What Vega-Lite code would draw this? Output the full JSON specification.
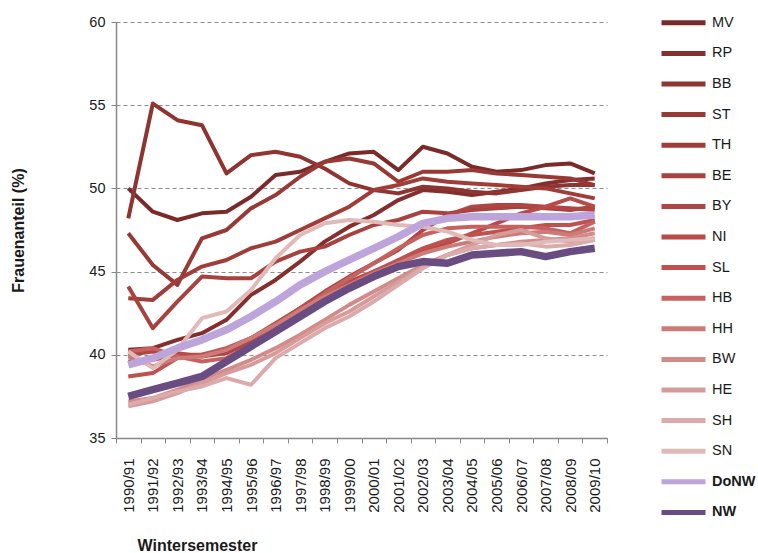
{
  "$schema": "https://vega.github.io/schema/vega-lite/v6.json",
  "width": 491,
  "height": 416,
  "autosize": "none",
  "padding": {"left": 116, "top": 22, "right": 151, "bottom": 115},
  "background": "white",
  "config": {"font": "Liberation Sans", "view": {"stroke": null}},
  "data": {"values": [
    {"s":"MV","j":"1990/91","v":50.0},{"s":"MV","j":"1991/92","v":48.6},{"s":"MV","j":"1992/93","v":48.1},{"s":"MV","j":"1993/94","v":48.5},{"s":"MV","j":"1994/95","v":48.6},{"s":"MV","j":"1995/96","v":49.5},{"s":"MV","j":"1996/97","v":50.8},{"s":"MV","j":"1997/98","v":51.0},{"s":"MV","j":"1998/99","v":51.6},{"s":"MV","j":"1999/00","v":52.1},{"s":"MV","j":"2000/01","v":52.2},{"s":"MV","j":"2001/02","v":51.1},{"s":"MV","j":"2002/03","v":52.5},{"s":"MV","j":"2003/04","v":52.1},{"s":"MV","j":"2004/05","v":51.3},{"s":"MV","j":"2005/06","v":51.0},{"s":"MV","j":"2006/07","v":51.1},{"s":"MV","j":"2007/08","v":51.4},{"s":"MV","j":"2008/09","v":51.5},{"s":"MV","j":"2009/10","v":50.9},
    {"s":"RP","j":"1990/91","v":40.3},{"s":"RP","j":"1991/92","v":40.4},{"s":"RP","j":"1992/93","v":40.9},{"s":"RP","j":"1993/94","v":41.3},{"s":"RP","j":"1994/95","v":42.1},{"s":"RP","j":"1995/96","v":43.6},{"s":"RP","j":"1996/97","v":44.5},{"s":"RP","j":"1997/98","v":45.6},{"s":"RP","j":"1998/99","v":46.8},{"s":"RP","j":"1999/00","v":47.7},{"s":"RP","j":"2000/01","v":48.4},{"s":"RP","j":"2001/02","v":49.3},{"s":"RP","j":"2002/03","v":49.9},{"s":"RP","j":"2003/04","v":49.8},{"s":"RP","j":"2004/05","v":49.6},{"s":"RP","j":"2005/06","v":49.8},{"s":"RP","j":"2006/07","v":50.0},{"s":"RP","j":"2007/08","v":50.3},{"s":"RP","j":"2008/09","v":50.5},{"s":"RP","j":"2009/10","v":50.6},
    {"s":"BB","j":"1990/91","v":48.2},{"s":"BB","j":"1991/92","v":55.1},{"s":"BB","j":"1992/93","v":54.1},{"s":"BB","j":"1993/94","v":53.8},{"s":"BB","j":"1994/95","v":50.9},{"s":"BB","j":"1995/96","v":52.0},{"s":"BB","j":"1996/97","v":52.2},{"s":"BB","j":"1997/98","v":51.9},{"s":"BB","j":"1998/99","v":51.2},{"s":"BB","j":"1999/00","v":50.3},{"s":"BB","j":"2000/01","v":49.9},{"s":"BB","j":"2001/02","v":49.7},{"s":"BB","j":"2002/03","v":50.1},{"s":"BB","j":"2003/04","v":50.0},{"s":"BB","j":"2004/05","v":49.8},{"s":"BB","j":"2005/06","v":49.7},{"s":"BB","j":"2006/07","v":49.9},{"s":"BB","j":"2007/08","v":50.1},{"s":"BB","j":"2008/09","v":50.2},{"s":"BB","j":"2009/10","v":50.2},
    {"s":"ST","j":"1990/91","v":47.3},{"s":"ST","j":"1991/92","v":45.4},{"s":"ST","j":"1992/93","v":44.2},{"s":"ST","j":"1993/94","v":47.0},{"s":"ST","j":"1994/95","v":47.5},{"s":"ST","j":"1995/96","v":48.8},{"s":"ST","j":"1996/97","v":49.6},{"s":"ST","j":"1997/98","v":50.7},{"s":"ST","j":"1998/99","v":51.6},{"s":"ST","j":"1999/00","v":51.8},{"s":"ST","j":"2000/01","v":51.5},{"s":"ST","j":"2001/02","v":50.4},{"s":"ST","j":"2002/03","v":51.0},{"s":"ST","j":"2003/04","v":51.0},{"s":"ST","j":"2004/05","v":51.1},{"s":"ST","j":"2005/06","v":50.9},{"s":"ST","j":"2006/07","v":50.8},{"s":"ST","j":"2007/08","v":50.7},{"s":"ST","j":"2008/09","v":50.6},{"s":"ST","j":"2009/10","v":50.2},
    {"s":"TH","j":"1990/91","v":43.4},{"s":"TH","j":"1991/92","v":43.3},{"s":"TH","j":"1992/93","v":44.5},{"s":"TH","j":"1993/94","v":45.3},{"s":"TH","j":"1994/95","v":45.7},{"s":"TH","j":"1995/96","v":46.4},{"s":"TH","j":"1996/97","v":46.8},{"s":"TH","j":"1997/98","v":47.5},{"s":"TH","j":"1998/99","v":48.2},{"s":"TH","j":"1999/00","v":48.9},{"s":"TH","j":"2000/01","v":49.9},{"s":"TH","j":"2001/02","v":50.2},{"s":"TH","j":"2002/03","v":50.6},{"s":"TH","j":"2003/04","v":50.4},{"s":"TH","j":"2004/05","v":50.3},{"s":"TH","j":"2005/06","v":50.2},{"s":"TH","j":"2006/07","v":50.1},{"s":"TH","j":"2007/08","v":50.0},{"s":"TH","j":"2008/09","v":49.7},{"s":"TH","j":"2009/10","v":49.4},
    {"s":"BE","j":"1990/91","v":44.1},{"s":"BE","j":"1991/92","v":41.6},{"s":"BE","j":"1992/93","v":43.2},{"s":"BE","j":"1993/94","v":44.7},{"s":"BE","j":"1994/95","v":44.6},{"s":"BE","j":"1995/96","v":44.6},{"s":"BE","j":"1996/97","v":45.6},{"s":"BE","j":"1997/98","v":46.2},{"s":"BE","j":"1998/99","v":46.5},{"s":"BE","j":"1999/00","v":47.2},{"s":"BE","j":"2000/01","v":47.8},{"s":"BE","j":"2001/02","v":48.1},{"s":"BE","j":"2002/03","v":48.6},{"s":"BE","j":"2003/04","v":48.5},{"s":"BE","j":"2004/05","v":48.7},{"s":"BE","j":"2005/06","v":48.8},{"s":"BE","j":"2006/07","v":48.9},{"s":"BE","j":"2007/08","v":48.8},{"s":"BE","j":"2008/09","v":48.7},{"s":"BE","j":"2009/10","v":48.9},
    {"s":"BY","j":"1990/91","v":40.0},{"s":"BY","j":"1991/92","v":40.2},{"s":"BY","j":"1992/93","v":40.1},{"s":"BY","j":"1993/94","v":39.9},{"s":"BY","j":"1994/95","v":40.1},{"s":"BY","j":"1995/96","v":40.8},{"s":"BY","j":"1996/97","v":41.8},{"s":"BY","j":"1997/98","v":42.8},{"s":"BY","j":"1998/99","v":43.8},{"s":"BY","j":"1999/00","v":44.7},{"s":"BY","j":"2000/01","v":45.5},{"s":"BY","j":"2001/02","v":46.3},{"s":"BY","j":"2002/03","v":47.5},{"s":"BY","j":"2003/04","v":48.4},{"s":"BY","j":"2004/05","v":48.9},{"s":"BY","j":"2005/06","v":49.0},{"s":"BY","j":"2006/07","v":49.0},{"s":"BY","j":"2007/08","v":48.9},{"s":"BY","j":"2008/09","v":48.8},{"s":"BY","j":"2009/10","v":48.7},
    {"s":"NI","j":"1990/91","v":39.6},{"s":"NI","j":"1991/92","v":39.7},{"s":"NI","j":"1992/93","v":40.0},{"s":"NI","j":"1993/94","v":40.0},{"s":"NI","j":"1994/95","v":40.3},{"s":"NI","j":"1995/96","v":41.0},{"s":"NI","j":"1996/97","v":41.9},{"s":"NI","j":"1997/98","v":42.8},{"s":"NI","j":"1998/99","v":43.7},{"s":"NI","j":"1999/00","v":44.4},{"s":"NI","j":"2000/01","v":45.0},{"s":"NI","j":"2001/02","v":45.6},{"s":"NI","j":"2002/03","v":46.2},{"s":"NI","j":"2003/04","v":46.7},{"s":"NI","j":"2004/05","v":47.3},{"s":"NI","j":"2005/06","v":47.9},{"s":"NI","j":"2006/07","v":48.5},{"s":"NI","j":"2007/08","v":48.9},{"s":"NI","j":"2008/09","v":49.4},{"s":"NI","j":"2009/10","v":48.9},
    {"s":"SL","j":"1990/91","v":38.7},{"s":"SL","j":"1991/92","v":38.9},{"s":"SL","j":"1992/93","v":39.8},{"s":"SL","j":"1993/94","v":40.0},{"s":"SL","j":"1994/95","v":40.4},{"s":"SL","j":"1995/96","v":41.0},{"s":"SL","j":"1996/97","v":41.7},{"s":"SL","j":"1997/98","v":42.5},{"s":"SL","j":"1998/99","v":43.4},{"s":"SL","j":"1999/00","v":44.2},{"s":"SL","j":"2000/01","v":45.0},{"s":"SL","j":"2001/02","v":45.7},{"s":"SL","j":"2002/03","v":46.4},{"s":"SL","j":"2003/04","v":46.9},{"s":"SL","j":"2004/05","v":47.2},{"s":"SL","j":"2005/06","v":47.4},{"s":"SL","j":"2006/07","v":47.6},{"s":"SL","j":"2007/08","v":47.8},{"s":"SL","j":"2008/09","v":47.8},{"s":"SL","j":"2009/10","v":48.1},
    {"s":"HB","j":"1990/91","v":40.2},{"s":"HB","j":"1991/92","v":40.4},{"s":"HB","j":"1992/93","v":39.9},{"s":"HB","j":"1993/94","v":39.6},{"s":"HB","j":"1994/95","v":39.8},{"s":"HB","j":"1995/96","v":40.6},{"s":"HB","j":"1996/97","v":41.6},{"s":"HB","j":"1997/98","v":42.6},{"s":"HB","j":"1998/99","v":43.7},{"s":"HB","j":"1999/00","v":44.6},{"s":"HB","j":"2000/01","v":45.5},{"s":"HB","j":"2001/02","v":46.4},{"s":"HB","j":"2002/03","v":47.2},{"s":"HB","j":"2003/04","v":47.6},{"s":"HB","j":"2004/05","v":47.7},{"s":"HB","j":"2005/06","v":47.7},{"s":"HB","j":"2006/07","v":47.7},{"s":"HB","j":"2007/08","v":47.6},{"s":"HB","j":"2008/09","v":47.3},{"s":"HB","j":"2009/10","v":48.0},
    {"s":"HH","j":"1990/91","v":39.9},{"s":"HH","j":"1991/92","v":39.3},{"s":"HH","j":"1992/93","v":39.8},{"s":"HH","j":"1993/94","v":39.9},{"s":"HH","j":"1994/95","v":40.3},{"s":"HH","j":"1995/96","v":41.0},{"s":"HH","j":"1996/97","v":41.8},{"s":"HH","j":"1997/98","v":42.7},{"s":"HH","j":"1998/99","v":43.5},{"s":"HH","j":"1999/00","v":44.2},{"s":"HH","j":"2000/01","v":44.9},{"s":"HH","j":"2001/02","v":45.5},{"s":"HH","j":"2002/03","v":46.1},{"s":"HH","j":"2003/04","v":46.5},{"s":"HH","j":"2004/05","v":46.8},{"s":"HH","j":"2005/06","v":47.1},{"s":"HH","j":"2006/07","v":47.3},{"s":"HH","j":"2007/08","v":47.4},{"s":"HH","j":"2008/09","v":47.2},{"s":"HH","j":"2009/10","v":47.6},
    {"s":"BW","j":"1990/91","v":37.2},{"s":"BW","j":"1991/92","v":37.4},{"s":"BW","j":"1992/93","v":37.9},{"s":"BW","j":"1993/94","v":38.5},{"s":"BW","j":"1994/95","v":39.1},{"s":"BW","j":"1995/96","v":39.7},{"s":"BW","j":"1996/97","v":40.4},{"s":"BW","j":"1997/98","v":41.2},{"s":"BW","j":"1998/99","v":42.1},{"s":"BW","j":"1999/00","v":43.0},{"s":"BW","j":"2000/01","v":43.8},{"s":"BW","j":"2001/02","v":44.6},{"s":"BW","j":"2002/03","v":45.4},{"s":"BW","j":"2003/04","v":46.0},{"s":"BW","j":"2004/05","v":46.4},{"s":"BW","j":"2005/06","v":46.6},{"s":"BW","j":"2006/07","v":46.8},{"s":"BW","j":"2007/08","v":46.9},{"s":"BW","j":"2008/09","v":47.0},{"s":"BW","j":"2009/10","v":47.3},
    {"s":"HE","j":"1990/91","v":36.9},{"s":"HE","j":"1991/92","v":37.2},{"s":"HE","j":"1992/93","v":37.7},{"s":"HE","j":"1993/94","v":38.3},{"s":"HE","j":"1994/95","v":38.9},{"s":"HE","j":"1995/96","v":39.4},{"s":"HE","j":"1996/97","v":40.1},{"s":"HE","j":"1997/98","v":41.0},{"s":"HE","j":"1998/99","v":41.9},{"s":"HE","j":"1999/00","v":42.6},{"s":"HE","j":"2000/01","v":43.5},{"s":"HE","j":"2001/02","v":44.4},{"s":"HE","j":"2002/03","v":45.3},{"s":"HE","j":"2003/04","v":46.0},{"s":"HE","j":"2004/05","v":46.6},{"s":"HE","j":"2005/06","v":47.2},{"s":"HE","j":"2006/07","v":47.5},{"s":"HE","j":"2007/08","v":47.0},{"s":"HE","j":"2008/09","v":46.8},{"s":"HE","j":"2009/10","v":47.0},
    {"s":"SH","j":"1990/91","v":37.0},{"s":"SH","j":"1991/92","v":37.4},{"s":"SH","j":"1992/93","v":37.8},{"s":"SH","j":"1993/94","v":38.1},{"s":"SH","j":"1994/95","v":38.6},{"s":"SH","j":"1995/96","v":38.2},{"s":"SH","j":"1996/97","v":39.8},{"s":"SH","j":"1997/98","v":40.7},{"s":"SH","j":"1998/99","v":41.6},{"s":"SH","j":"1999/00","v":42.3},{"s":"SH","j":"2000/01","v":43.2},{"s":"SH","j":"2001/02","v":44.2},{"s":"SH","j":"2002/03","v":45.2},{"s":"SH","j":"2003/04","v":46.0},{"s":"SH","j":"2004/05","v":46.4},{"s":"SH","j":"2005/06","v":46.6},{"s":"SH","j":"2006/07","v":46.7},{"s":"SH","j":"2007/08","v":46.5},{"s":"SH","j":"2008/09","v":46.6},{"s":"SH","j":"2009/10","v":46.9},
    {"s":"SN","j":"1990/91","v":40.2},{"s":"SN","j":"1991/92","v":39.2},{"s":"SN","j":"1992/93","v":40.3},{"s":"SN","j":"1993/94","v":42.2},{"s":"SN","j":"1994/95","v":42.6},{"s":"SN","j":"1995/96","v":43.9},{"s":"SN","j":"1996/97","v":45.8},{"s":"SN","j":"1997/98","v":47.2},{"s":"SN","j":"1998/99","v":47.9},{"s":"SN","j":"1999/00","v":48.1},{"s":"SN","j":"2000/01","v":48.0},{"s":"SN","j":"2001/02","v":47.8},{"s":"SN","j":"2002/03","v":47.7},{"s":"SN","j":"2003/04","v":47.4},{"s":"SN","j":"2004/05","v":46.9},{"s":"SN","j":"2005/06","v":46.6},{"s":"SN","j":"2006/07","v":46.6},{"s":"SN","j":"2007/08","v":46.8},{"s":"SN","j":"2008/09","v":46.9},{"s":"SN","j":"2009/10","v":47.0},
    {"s":"DoNW","j":"1990/91","v":39.4},{"s":"DoNW","j":"1991/92","v":39.8},{"s":"DoNW","j":"1992/93","v":40.4},{"s":"DoNW","j":"1993/94","v":40.9},{"s":"DoNW","j":"1994/95","v":41.5},{"s":"DoNW","j":"1995/96","v":42.3},{"s":"DoNW","j":"1996/97","v":43.2},{"s":"DoNW","j":"1997/98","v":44.2},{"s":"DoNW","j":"1998/99","v":45.0},{"s":"DoNW","j":"1999/00","v":45.7},{"s":"DoNW","j":"2000/01","v":46.4},{"s":"DoNW","j":"2001/02","v":47.1},{"s":"DoNW","j":"2002/03","v":47.9},{"s":"DoNW","j":"2003/04","v":48.2},{"s":"DoNW","j":"2004/05","v":48.3},{"s":"DoNW","j":"2005/06","v":48.3},{"s":"DoNW","j":"2006/07","v":48.3},{"s":"DoNW","j":"2007/08","v":48.3},{"s":"DoNW","j":"2008/09","v":48.3},{"s":"DoNW","j":"2009/10","v":48.4},
    {"s":"NW","j":"1990/91","v":37.5},{"s":"NW","j":"1991/92","v":37.9},{"s":"NW","j":"1992/93","v":38.3},{"s":"NW","j":"1993/94","v":38.7},{"s":"NW","j":"1994/95","v":39.6},{"s":"NW","j":"1995/96","v":40.5},{"s":"NW","j":"1996/97","v":41.4},{"s":"NW","j":"1997/98","v":42.3},{"s":"NW","j":"1998/99","v":43.2},{"s":"NW","j":"1999/00","v":44.0},{"s":"NW","j":"2000/01","v":44.7},{"s":"NW","j":"2001/02","v":45.3},{"s":"NW","j":"2002/03","v":45.6},{"s":"NW","j":"2003/04","v":45.5},{"s":"NW","j":"2004/05","v":46.0},{"s":"NW","j":"2005/06","v":46.1},{"s":"NW","j":"2006/07","v":46.2},{"s":"NW","j":"2007/08","v":45.9},{"s":"NW","j":"2008/09","v":46.2},{"s":"NW","j":"2009/10","v":46.4}
  ]},
  "encoding": {
    "x": {
      "field": "j", "type": "ordinal", "bandPosition": 0.5,
      "scale": {"type": "band", "paddingInner": 0, "paddingOuter": 0},
      "axis": {
        "title": "Wintersemester", "titleFontWeight": "bold", "titleFontSize": 16, "titleColor": "#1a1a1a",
        "titleX": 21, "titleY": 107, "titleAlign": "left", "titleBaseline": "middle", "titleAnchor": "start",
        "labelAngle": -90, "labelAlign": "right", "labelBaseline": "middle", "labelFontSize": 15, "labelColor": "#1a1a1a",
        "labelPadding": 15, "tickBand": "extent", "tickSize": 5, "tickColor": "#878787", "domainColor": "#878787", "domainWidth": 1.5, "grid": false
      }
    },
    "y": {
      "field": "v", "type": "quantitative",
      "scale": {"domain": [35, 60], "nice": false, "zero": false},
      "axis": {
        "values": [35, 40, 45, 50, 55, 60], "title": "Frauenanteil (%)", "titleFontWeight": "bold", "titleFontSize": 16, "titleColor": "#1a1a1a",
        "titleX": -98, "titleY": 208, "titleAngle": -90, "titleAlign": "center", "titleBaseline": "middle",
        "labelFontSize": 14.5, "labelColor": "#1a1a1a", "labelPadding": 6, "tickSize": 5, "tickColor": "#878787", "domainColor": "#878787", "domainWidth": 1.5,
        "grid": true, "gridColor": "#8c8c8c", "gridDash": [4, 3], "gridWidth": 1
      }
    },
    "color": {
      "field": "s", "type": "nominal",
      "scale": {
        "domain": ["MV","RP","BB","ST","TH","BE","BY","NI","SL","HB","HH","BW","HE","SH","SN","DoNW","NW"],
        "range": ["#7b2a2a","#842e2d","#8e3431","#973935","#a03d39","#a8423e","#b04643","#b84b48","#bf514e","#c5625f","#cc7b79","#d18b89","#d69c9b","#dcaaaa","#e0b9b9","#bda5db","#684c82"]
      },
      "legend": {
        "orient": "none", "legendX": 543, "legendY": -6.7, "title": null, "padding": 0,
        "symbolType": "M-1,0H7.8", "symbolSize": 100, "symbolStrokeWidth": 5,
        "labelOffset": 38, "labelFontSize": 14.5, "labelColor": "#1a1a1a", "rowPadding": 9.6,
        "labelFontWeight": {"expr": "datum.label === 'DoNW' || datum.label === 'NW' ? 'bold' : 'normal'"}
      }
    }
  },
  "layer": [
    {
      "transform": [{"filter": "datum.s !== 'DoNW' && datum.s !== 'NW'"}],
      "mark": {"type": "line", "strokeWidth": 4, "strokeJoin": "round"}
    },
    {
      "transform": [{"filter": "datum.s === 'DoNW' || datum.s === 'NW'"}],
      "mark": {"type": "line", "strokeWidth": 7.5, "strokeJoin": "round"}
    }
  ]
}
